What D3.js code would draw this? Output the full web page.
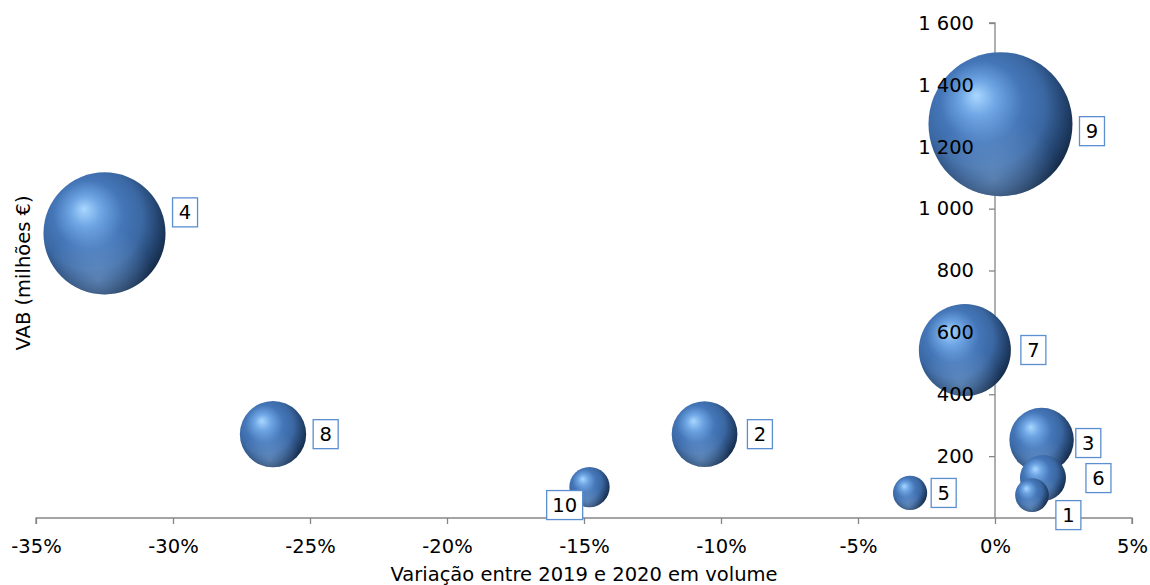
<!DOCTYPE html>
<html>
<head>
<meta charset="utf-8">
<script src="https://cdn.jsdelivr.net/npm/d3@7"></script>
<style>
  body { margin: 0; background: #fff; }
  text { font-family: "DejaVu Sans", Verdana, sans-serif; fill: #000; }
</style>
</head>
<body>
<div id="chart"></div>
<script>
// bubble data
const labels = ["1", "2", "3", "4", "5", "6", "7", "8", "9", "10"];
const variation = [1.35, -10.6, 1.7, -32.5, -3.1, 1.75, -1.1, -26.35, 0.2, -14.8]; // % change 2019-2020
const vab = [74, 271, 252, 920, 81, 129, 543, 271, 1273, 100];                     // milhões €
const bubbleSize = [70, 265, 255, 915, 72, 130, 520, 270, 1273, 100];
const xTicks = [-35, -30, -25, -20, -15, -10, -5, 0, 5];
const yTicks = [200, 400, 600, 800, 1000, 1200, 1400, 1600];

const W = 1150, H = 585;
const plot = { left: 36, right: 1132, top: 23, bottom: 518 };
const fontSize = 19.5;

const svg = d3.select("#chart").append("svg")
  .attr("width", W)
  .attr("height", H);

const x = d3.scaleLinear().domain([-35, 5]).range([plot.left, plot.right]);
const y = d3.scaleLinear().domain([0, 1600]).range([plot.bottom, plot.top]);
const r = d3.scaleSqrt().domain([0, d3.max(bubbleSize)]).range([0, 72]);

const fmtY = d => d3.format(",")(d).replace(/,/g, " ");

// sphere shading
const defs = svg.append("defs");
const grad = defs.append("radialGradient")
  .attr("id", "sphere")
  .attr("cx", "42%").attr("cy", "42%").attr("r", "68%")
  .attr("fx", "33%").attr("fy", "30%");
[[0, "#a9d7ff"], [0.18, "#6fa6e4"], [0.42, "#4476b8"], [0.62, "#3b68a3"], [0.8, "#23436e"], [1, "#0b1a2e"]]
  .forEach(s => grad.append("stop").attr("offset", s[0]).attr("stop-color", s[1]));

const glow = defs.append("radialGradient")
  .attr("id", "glow")
  .attr("cx", "45%").attr("cy", "88%").attr("r", "45%");
glow.append("stop").attr("offset", 0).attr("stop-color", "#8fb8e8").attr("stop-opacity", 0.45);
glow.append("stop").attr("offset", 1).attr("stop-color", "#8fb8e8").attr("stop-opacity", 0);

// axes (lines go behind the bubbles, y tick labels are drawn again on top)
const axisColor = "#868686";
const styleAxis = a => {
  a.select(".domain").attr("stroke", axisColor).attr("stroke-width", 1.3);
  a.selectAll(".tick line").attr("stroke", axisColor).attr("stroke-width", 1.3);
  a.selectAll(".tick text").attr("font-size", fontSize).attr("font-family", "DejaVu Sans, Verdana, sans-serif").attr("fill", "#000");
};

const xAxis = svg.append("g")
  .attr("transform", `translate(0,${plot.bottom})`)
  .call(d3.axisBottom(x).tickValues(xTicks).tickSize(6).tickPadding(15).tickFormat(d => d + "%"));
const yAxis = svg.append("g")
  .attr("transform", `translate(${x(0)},0)`)
  .call(d3.axisLeft(y).tickValues(yTicks).tickSize(6).tickPadding(15).tickFormat(fmtY));
styleAxis(xAxis);
styleAxis(yAxis);
yAxis.selectAll(".tick text").remove();
yAxis.select(".domain").attr("d", `M-6,${plot.top}H0V${plot.bottom}`);
xAxis.select(".domain").attr("d", `M${plot.left},6V0H${plot.right}V6`);

svg.append("text")
  .attr("x", (plot.left + plot.right) / 2).attr("y", 581)
  .attr("text-anchor", "middle")
  .attr("font-size", fontSize)
  .text("Variação entre 2019 e 2020 em volume");

svg.append("text")
  .attr("transform", "translate(30,273) rotate(-90)")
  .attr("text-anchor", "middle")
  .attr("font-size", fontSize)
  .text("VAB (milhões €)");

// bubbles, biggest first
const points = labels.map((l, i) => ({ label: l, x: variation[i], y: vab[i], s: bubbleSize[i] }))
  .sort((a, b) => b.s - a.s);

const bubbles = svg.append("g").selectAll("g")
  .data(points)
  .enter()
  .append("g");

bubbles.append("circle")
  .attr("cx", d => x(d.x))
  .attr("cy", d => y(d.y))
  .attr("r", d => r(d.s))
  .attr("fill", "url(#sphere)");
bubbles.append("circle")
  .attr("cx", d => x(d.x))
  .attr("cy", d => y(d.y))
  .attr("r", d => r(d.s))
  .attr("fill", "url(#glow)");

// y tick labels on top of the bubbles
const yLabels = svg.append("g")
  .attr("transform", `translate(${x(0)},0)`)
  .call(d3.axisLeft(y).tickValues(yTicks).tickSize(6).tickPadding(15).tickFormat(fmtY));
styleAxis(yLabels);
yLabels.select(".domain").remove();
yLabels.selectAll(".tick line").remove();

// data labels: boxed, to the right of the bubble, some moved by hand like in the original
const nudge = {
  "1": [0, 20], "2": [3, 0], "3": [-5, 3], "4": [0, -21], "5": [-3, 0],
  "6": [13, 0], "7": [3, 0], "9": [0, 7], "10": [-70, 18]
};
const boxW = 25, boxH = 29;
const widthOf = d => d.label.length > 1 ? 36 : boxW;

const lbl = svg.append("g").selectAll("g")
  .data(points)
  .enter()
  .append("g")
  .attr("transform", d => {
    const n = nudge[d.label] || [0, 0];
    const bx = x(d.x) + r(d.s) + 7 + n[0];
    const by = y(d.y) - boxH / 2 + n[1];
    return `translate(${bx},${by})`;
  });

lbl.append("rect")
  .attr("width", widthOf)
  .attr("height", boxH)
  .attr("fill", "#fff")
  .attr("stroke", "#5b8fd0")
  .attr("stroke-width", 1.3);

lbl.append("text")
  .attr("x", d => widthOf(d) / 2)
  .attr("y", boxH / 2 + 7)
  .attr("text-anchor", "middle")
  .attr("font-size", fontSize)
  .text(d => d.label);
</script>
</body>
</html>
